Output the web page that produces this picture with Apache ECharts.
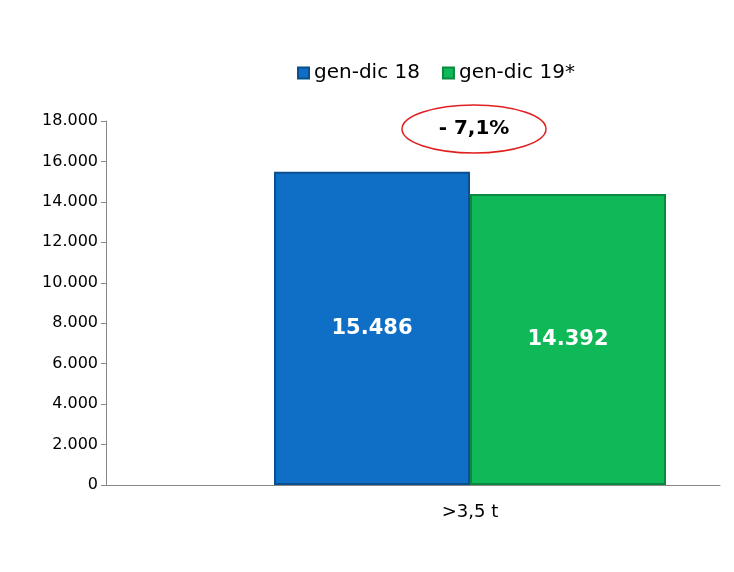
<!DOCTYPE html>
<html><head><meta charset="utf-8">
<script src="https://cdn.jsdelivr.net/npm/echarts@6/dist/echarts.min.js"></script>
<style>html,body{margin:0;background:#fff}#c{width:734px;height:572px}</style>
</head><body><div id="c"></div>
<script>
const categories = [">3,5 t"];
const seriesNames = ["gen-dic 18", "gen-dic 19*"];
const values18 = [15486];
const values19 = [14392];
const changeLabel = "- 7,1%";
const chart = echarts.init(document.getElementById('c'));
const fmt = v => v.toLocaleString('de-DE');
const lbl = {show:true, position:'inside', color:'#fff', fontWeight:'bold', fontSize:21, fontFamily:'DejaVu Sans', formatter:p=>fmt(p.value)};
chart.setOption({
  animation:false,
  textStyle:{fontFamily:'DejaVu Sans'},
  legend:{data:seriesNames, top:58, left:292, itemWidth:11, itemHeight:11, itemGap:22, textStyle:{fontSize:20, color:'#000'}, icon:'rect'},
  grid:{left:106, top:121, right:14, height:364},
  xAxis:{type:'category', data:categories, axisLine:{lineStyle:{color:'#888'}}, axisTick:{show:false}, axisLabel:{color:'#000', fontSize:18, margin:18, padding:[0,0,0,114]}},
  yAxis:{type:'value', min:0, max:18000, interval:2000, splitLine:{show:false}, axisLine:{show:true, lineStyle:{color:'#888'}}, axisTick:{show:true}, axisLabel:{color:'#000', fontSize:16, formatter:v=>fmt(v)}},
  series:[
    {name:'_pad', type:'bar', data:[0], barWidth:114, barGap:'0%', itemStyle:{color:'transparent'}, silent:true},
    {name:seriesNames[0], type:'bar', data:values18, barWidth:196, barGap:'0%', itemStyle:{color:'#0f6fc6', borderColor:'#0a4f8f', borderWidth:2}, label:lbl},
    {name:seriesNames[1], type:'bar', data:values19, barWidth:196, barGap:'0%', itemStyle:{color:'#0fb957', borderColor:'#0a8a3f', borderWidth:2}, label:lbl}
  ],
  graphic:[{type:'ellipse', shape:{cx:474, cy:129, rx:72, ry:24}, style:{fill:'none', stroke:'#e02020', lineWidth:1.5}},
    {type:'text', x:474, y:129, style:{text:changeLabel, fontSize:20, fontWeight:'bold', fill:'#000', align:'center', verticalAlign:'middle', fontFamily:'DejaVu Sans'}}]
});
</script></body></html>
